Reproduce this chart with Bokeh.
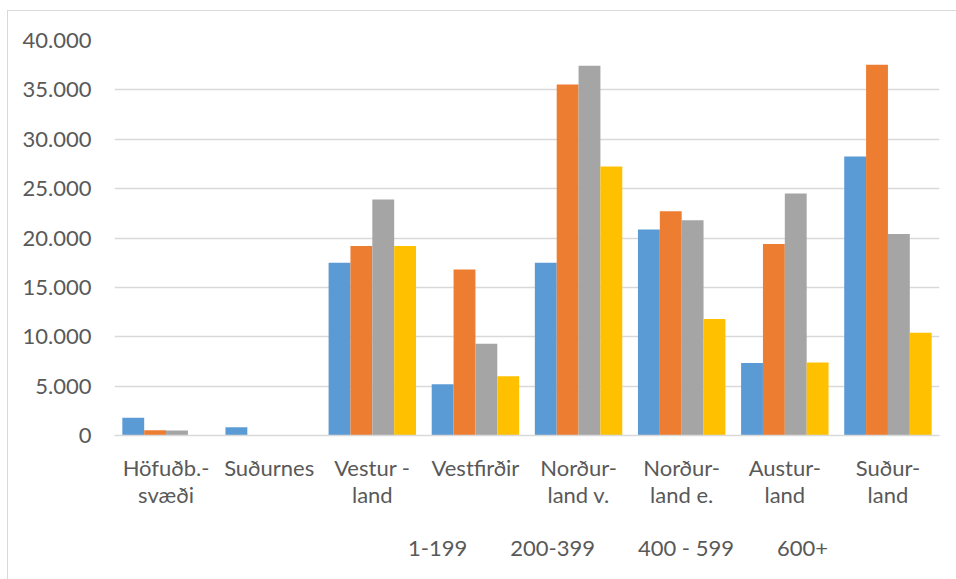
from bokeh.plotting import figure
from bokeh.layouts import column
from bokeh.models import ColumnDataSource, FactorRange, FixedTicker, Legend, LegendItem
from bokeh.transform import dodge
from bokeh.embed import file_html
from bokeh.resources import INLINE

regions = ["Höfuðb.-\nsvæði", "Suðurnes", "Vestur -\nland", "Vestfirðir",
           "Norður-\nland v.", "Norður-\nland e.", "Austur-\nland", "Suður-\nland"]
s_1_199 = [1800, 830, 17500, 5200, 17500, 20850, 7350, 28250]
s_200_399 = [530, 0, 19200, 16800, 35550, 22700, 19400, 37550]
s_400_599 = [500, 0, 23900, 9300, 37450, 21800, 24500, 20400]
s_600p = [0, 0, 19200, 6000, 27250, 11800, 7400, 10400]
series_names = ["1-199", "200-399", "400 - 599", "600+"]
colors = ["#5B9BD5", "#ED7D31", "#A5A5A5", "#FFC000"]
y_ticks = [0, 5000, 10000, 15000, 20000, 25000, 30000, 35000, 40000]

src = ColumnDataSource(dict(x=regions, a=s_1_199, b=s_200_399, c=s_400_599, d=s_600p))

FONT = "Lato"
TXT = "#595959"
FS = "22px"

p = figure(x_range=FactorRange(factors=regions, range_padding=0), y_range=(0, 40000),
           width=948, height=524, output_backend="svg", toolbar_location=None,
           min_border_left=106, min_border_right=17, min_border_top=29, min_border_bottom=100)

bw = 0.212
offs = [-1.5 * bw, -0.5 * bw, 0.5 * bw, 1.5 * bw]
for col, off, clr in zip(["a", "b", "c", "d"], offs, colors):
    p.vbar(x=dodge("x", off, range=p.x_range), top=col, width=bw, source=src,
           fill_color=clr, line_color=None)

p.outline_line_color = None
p.xgrid.grid_line_color = None
p.ygrid.grid_line_color = "#d9d9d9"
p.ygrid.grid_line_width = 1.3
p.ygrid.ticker = FixedTicker(ticks=y_ticks)

p.yaxis.ticker = FixedTicker(ticks=y_ticks)
p.yaxis.major_label_overrides = {v: f"{v:,}".replace(",", ".") for v in y_ticks}
p.yaxis.axis_line_color = None
p.yaxis.major_tick_line_color = None
p.yaxis.minor_tick_line_color = None
p.yaxis.major_label_text_font = FONT
p.yaxis.major_label_text_font_size = FS
p.yaxis.major_label_text_color = TXT
p.yaxis.major_label_standoff = 17

p.xaxis.axis_line_color = "#d9d9d9"
p.xaxis.axis_line_width = 1.3
p.xaxis.major_tick_line_color = None
p.xaxis.minor_tick_line_color = None
p.xaxis.major_label_text_font = FONT
p.xaxis.major_label_text_font_size = FS
p.xaxis.major_label_text_color = TXT
p.xaxis.major_label_standoff = 12
p.xaxis.major_label_text_line_height = 1.0

# legend strip below the chart
p2 = figure(width=948, height=44, x_range=(0, 1), y_range=(0, 1),
            output_backend="svg", toolbar_location=None,
            x_axis_location=None, y_axis_location=None,
            min_border_left=0, min_border_right=0, min_border_top=0, min_border_bottom=0)
p2.grid.visible = False
p2.outline_line_color = None
leg_renderers = [p2.vbar(x=[], top=[], width=0.1, fill_color=clr, line_color=None) for clr in colors]

legend = Legend(items=[LegendItem(label=n, renderers=[r]) for n, r in zip(series_names, leg_renderers)],
                orientation="horizontal", location=(275, 18),
                label_text_font=FONT, label_text_font_size=FS, label_text_color=TXT,
                glyph_width=14, glyph_height=14, label_standoff=5, spacing=24,
                padding=0, margin=0, border_line_color=None, background_fill_alpha=0)
p2.add_layout(legend, "center")

layout = column(p, p2, spacing=0)
layout.styles = {"border-top": "1px solid #d9d9d9", "border-left": "1px solid #d9d9d9",
                 "margin-top": "10px", "margin-left": "7px"}

open("out.html", "w").write(file_html(layout, INLINE))
